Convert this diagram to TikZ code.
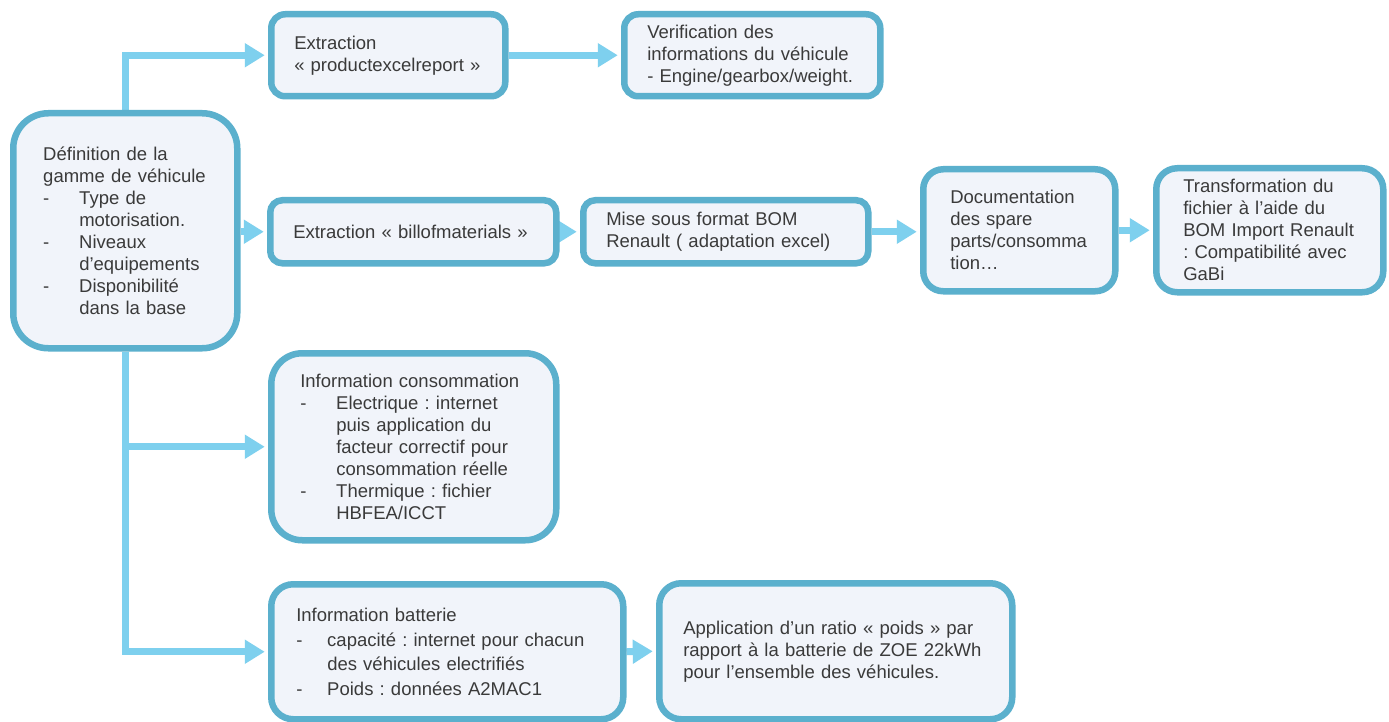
\documentclass[tikz,border=0pt]{standalone}
\usepackage{fontspec}
\setmainfont{Liberation Sans}
\usetikzlibrary{arrows.meta,backgrounds}
\definecolor{bordc}{HTML}{5BB0CD}
\definecolor{fillc}{HTML}{F1F4FA}
\definecolor{arrc}{HTML}{7ED0EE}
\definecolor{textc}{HTML}{3A3A3A}
\newcommand\dashitem[2][36pt]{\par\hangindent=#1\hangafter=1\noindent\makebox[#1][l]{-}{\let\\\newline #2}\par}
\tikzset{
  box/.style n args={4}{draw=bordc, fill=fillc, line width=6.5pt, align=left,
    anchor=north west, inner ysep=0pt, inner xsep=6pt, text=textc,
    font=\fontsize{18.5}{22}\selectfont,
    minimum width=#1, minimum height=#2, text width=#1-12pt,
    rounded corners=#4,
    execute at begin node={\frenchspacing\leftskip=\dimexpr#3-6pt\relax\hyphenpenalty=10000\exhyphenpenalty=10000}},
  conn/.style={draw=arrc, line width=7pt, -{Triangle[length=20pt,width=23pt]}, shorten >=3.25pt},
}
\begin{document}
\begin{tikzpicture}[x=1pt,y=-1pt]
\useasboundingbox (0,0) rectangle (1389,722);
\node[box={224pt}{235pt}{30pt}{35pt}] (A) at (10,110) {Définition de la\\gamme de véhicule
\dashitem{Type de\\motorisation.}
\dashitem{Niveaux\\d’equipements}
\dashitem{Disponibilité\\dans la base}};
\node[box={234pt}{82pt}{23pt}{14pt}] (B) at (268,11) {Extraction\\« productexcelreport »};
\node[box={256pt}{82pt}{23pt}{14pt}] (C) at (621,11) {Verification des\\informations du véhicule\\-~Engine/gearbox/weight.};
\node[box={286pt}{63pt}{23pt}{12pt}] (D) at (267,197) {Extraction « billofmaterials »};
\node[box={285pt}{63pt}{23pt}{12pt}] (E) at (580,197) {Mise sous format BOM\\Renault ( adaptation excel)};
\node[box={192pt}{122pt}{27pt}{20pt}] (F) at (920,166) {Documentation\\des spare\\parts/consomma\\tion…};
\node[box={227pt}{124pt}{27pt}{21pt}] (G) at (1153,165) {Transformation du\\fichier à l’aide du\\BOM Import Renault\\: Compatibilité avec\\GaBi};
\node[box={285pt}{187pt}{29pt}{31pt}] (H) at (268,350) {Information consommation
\dashitem{Electrique : internet\\puis application du\\facteur correctif pour\\consommation réelle}
\dashitem{Thermique : fichier\\HBFEA/ICCT}};
\node[box={352pt}{135pt}{25pt}{22pt}, font=\fontsize{18.5}{24.5}\selectfont] (I) at (268,581) {Information batterie
\dashitem[31pt]{capacité : internet pour chacun\\des véhicules electrifiés}
\dashitem[31pt]{Poids : données A2MAC1}};
\node[box={353pt}{136pt}{24pt}{22pt}] (J) at (656,580) {Application d’un ratio « poids » par\\rapport à la batterie de ZOE 22kWh\\pour l’ensemble des véhicules.};
\begin{scope}[on background layer]
\fill[white] (0,0) rectangle (1389,722);
\draw[conn] (A.north) |- (B.west);
\draw[conn] (B.east) -- (C.west);
\draw[conn] (D.west -| A.east) -- (D.west);
\draw[conn] (D.east) -- (E.west);
\draw[conn] (E.east) -- (E.east -| F.west);
\draw[conn] (F.east) -- (G.west);
\draw[conn] (A.south) |- (H.west);
\draw[conn] (A.south) |- (I.west);
\draw[conn] (I.east) -- (J.west);
\end{scope}
\end{tikzpicture}
\end{document}
